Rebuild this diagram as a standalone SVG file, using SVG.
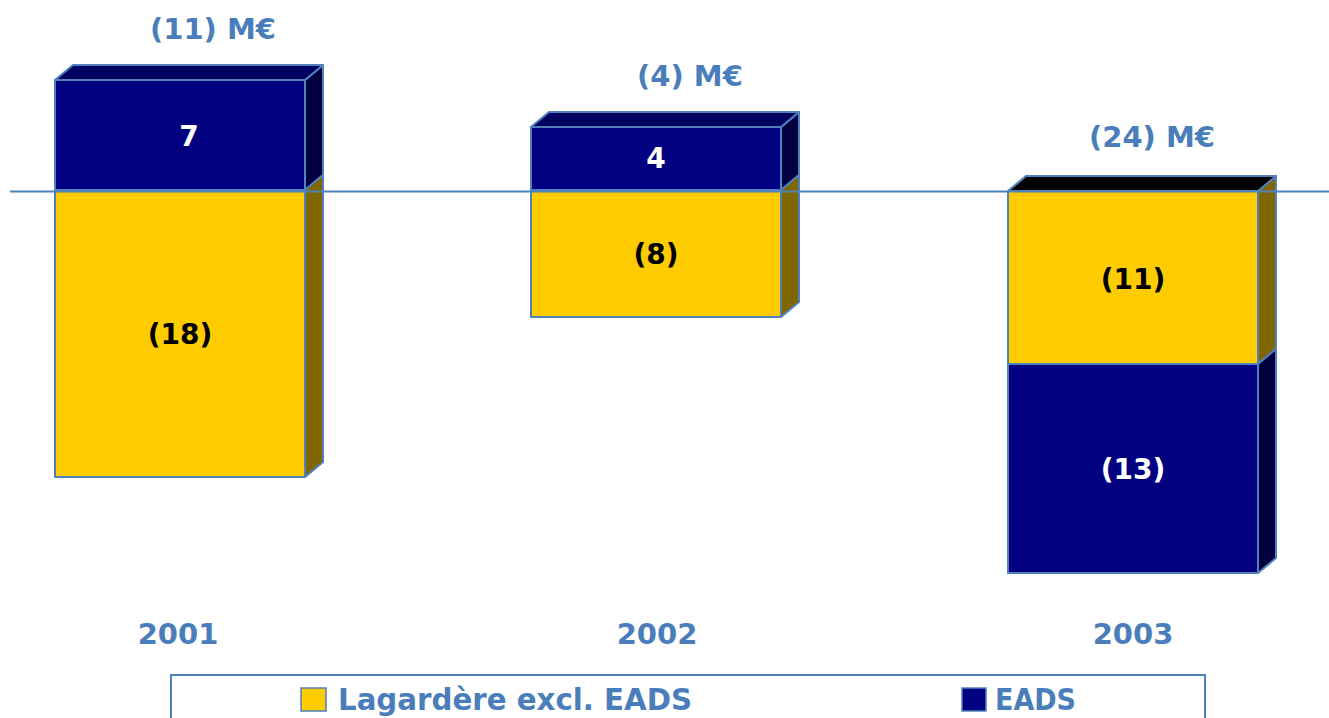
<svg xmlns="http://www.w3.org/2000/svg" width="1329" height="718" viewBox="0 0 1329 718">
<style>
.e{stroke:#4F81BD;stroke-width:2;stroke-linejoin:round}
.nf{fill:#000080}.nt{fill:#000060}.ns{fill:#000040}
.yf{fill:#FFCC00}.ys{fill:#806600}.bk{fill:#000000}
text{font-family:"DejaVu Sans","Verdana",sans-serif;font-weight:bold;text-anchor:middle}
.v{font-size:28px}
.t{font-size:29px;fill:#4A7EBB}
.w{fill:#FFFFFF}.b{fill:#000000}
.lg{font-size:31px;fill:#4A7EBB;text-anchor:start}
</style>
<rect width="1329" height="718" fill="#FFFFFF"/>
<g id="bar2001">
<polygon class="e ns" points="305,80 323,65 323,175 305,190"/>
<polygon class="e ys" points="305,190 323,175 323,462 305,477"/>
<polygon class="e nt" points="55,80 73,65 323,65 305,80"/>
<rect class="e nf" x="55" y="80" width="250" height="110"/>
<rect class="e yf" x="55" y="190" width="250" height="287"/>
<text class="v w" x="189" y="146">7</text>
<text class="v b" x="180" y="344">(18)</text>
<text class="t" x="213" y="39">(11) M€</text>
<text class="t" x="178" y="644">2001</text>
</g>
<g id="bar2002">
<polygon class="e ns" points="781,127 799,112 799,175 781,190"/>
<polygon class="e ys" points="781,190 799,175 799,302 781,317"/>
<polygon class="e nt" points="531,127 549,112 799,112 781,127"/>
<rect class="e nf" x="531" y="127" width="250" height="63"/>
<rect class="e yf" x="531" y="190" width="250" height="127"/>
<text class="v w" x="656" y="168">4</text>
<text class="v b" x="656" y="264">(8)</text>
<text class="t" x="690" y="86">(4) M€</text>
<text class="t" x="657" y="644">2002</text>
</g>
<g id="bar2003">
<polygon class="e ys" points="1258,191 1276,176 1276,349 1258,364"/>
<polygon class="e ns" points="1258,364 1276,349 1276,558 1258,573"/>
<polygon class="e bk" points="1008,191 1026,176 1276,176 1258,191"/>
<rect class="e yf" x="1008" y="191" width="250" height="173"/>
<rect class="e nf" x="1008" y="364" width="250" height="209"/>
<text class="v b" x="1133" y="289">(11)</text>
<text class="v w" x="1133" y="479">(13)</text>
<text class="t" x="1152" y="147">(24) M€</text>
<text class="t" x="1133" y="644">2003</text>
</g>
<g id="connectors">
<line x1="10" y1="191.5" x2="1329" y2="191.5" stroke="#4F81BD" stroke-width="2"/>
</g>
<g id="legend">
<rect x="171" y="675" width="1034" height="60" fill="#FFFFFF" stroke="#4F81BD" stroke-width="2"/>
<rect x="301" y="688" width="25" height="23" fill="#FFCC00" stroke="#4F81BD" stroke-width="1.5"/>
<text class="lg" x="338" y="710" textLength="354" lengthAdjust="spacingAndGlyphs">Lagardère excl. EADS</text>
<rect x="962" y="688" width="24" height="23" fill="#000080" stroke="#4F81BD" stroke-width="1.5"/>
<text class="lg" x="995" y="710" textLength="81" lengthAdjust="spacingAndGlyphs">EADS</text>
</g>
</svg>
